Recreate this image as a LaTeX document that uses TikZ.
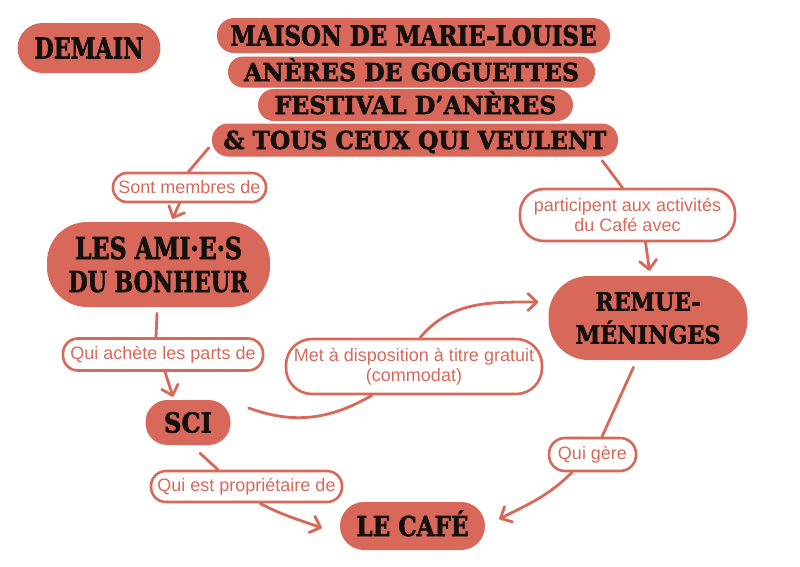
\documentclass[tikz,border=0pt]{standalone}
\usepackage{fontspec}
\usepackage{graphicx}
\usetikzlibrary{arrows.meta,calc}
\newfontfamily\heavyf{DejaVu Serif}[BoldFeatures={FakeBold=2.2}]
\newfontfamily\labf{Liberation Sans}
\definecolor{sal}{RGB}{216,105,90}
\definecolor{ink}{RGB}{20,16,14}
\newcommand\bt[3]{\resizebox{#1pt}{#2pt}{\raisebox{0pt}[\fontcharht\font`\A][0pt]{#3}}}
\begin{document}
\begin{tikzpicture}[x=1pt,y=-1pt,
 blob/.style={fill=sal, inner sep=0pt, text=ink, font=\heavyf\bfseries\fontsize{27}{33}\selectfont, align=center},
 lab/.style={draw=sal, line width=2.6pt, fill=white, text=sal, inner sep=0pt, font=\labf\fontsize{18}{20.5}\selectfont, align=center},
 conn/.style={draw=sal, line width=2.8pt, line cap=round},
 arr/.style={conn, -{Straight Barb[length=9pt,width=17pt,round]}}
]
\path[fill=white] (0,0) rectangle (800,566);
\useasboundingbox (0,0) rectangle (800,566);

\node[blob, minimum width=143pt, minimum height=50pt, rounded corners=25pt] (demain) at (89,48) {\bt{109}{21}{DEMAIN}};
\node[blob, minimum width=393pt, minimum height=35pt, rounded corners=17pt] (maison) at (413.5,35.5) {\bt{366}{20}{MAISON DE MARIE-LOUISE}};
\node[blob, minimum width=367pt, minimum height=31pt, rounded corners=15pt] (aneres) at (411.5,72) {\bt{335}{18}{ANÈRES DE GOGUETTES}};
\node[blob, minimum width=315pt, minimum height=32pt, rounded corners=16pt] (festival) at (415.5,105) {\bt{282}{18}{FESTIVAL D’ANÈRES}};
\node[blob, minimum width=406pt, minimum height=33pt, rounded corners=16pt] (tous) at (415,140) {\bt{383}{18}{\& TOUS CEUX QUI VEULENT}};

\node[blob, minimum width=223pt, minimum height=85pt, rounded corners=40pt] (amis) at (158.5,264.5) {\bt{167}{22}{LES AMI·E·S}\\\bt{180}{21}{DU BONHEUR}};
\node[blob, minimum width=85pt, minimum height=45pt, rounded corners=22pt] (sci) at (188,422.5) {\bt{48}{20}{SCI}};
\node[blob, minimum width=145pt, minimum height=48pt, rounded corners=24pt] (cafe) at (412.5,526) {\bt{112}{20}{LE CAFÉ}};
\node[blob, minimum width=199pt, minimum height=84pt, rounded corners=40pt] (remue) at (648,318) {\bt{105}{18}{REMUE-}\\\bt{145}{18}{MÉNINGES}};

\node[lab, minimum width=153pt, minimum height=29pt, rounded corners=14pt] (sont) at (189.5,187.5) {Sont membres de};
\node[lab, minimum width=215pt, minimum height=52pt, rounded corners=24pt] (part) at (627.5,215) {participent aux activités\\du Café avec};
\node[lab, minimum width=200pt, minimum height=32pt, rounded corners=15pt] (achete) at (163,354.5) {Qui achète les parts de};
\node[lab, minimum width=256pt, minimum height=55pt, rounded corners=26pt] (met) at (414,366.5) {Met à disposition à titre gratuit\\(commodat)};
\node[lab, minimum width=87pt, minimum height=33pt, rounded corners=16pt] (gere) at (592.5,454.5) {Qui gère};
\node[lab, minimum width=191pt, minimum height=31pt, rounded corners=15pt] (prop) at (246.5,486.5) {Qui est propriétaire de};

\draw[conn] ($(tous.south west)+(-3,-9)$) -- ($(sont.north)+(-1,0)$);
\draw[arr] ($(sont.south)+(-10,0)$) -- ($(amis.north)+(14,-3)$);
\draw[conn] ($(tous.south east)+(-16,4)$) -- ($(part.north)+(-5,0)$);
\draw[arr] ($(part.south)+(18,0)$) -- ($(remue.north)+(1.5,-5)$);
\draw[conn] ($(amis.south)+(-1.5,6)$) -- ($(achete.north)+(-7,0)$);
\draw[arr] ($(achete.south)+(2,0)$) -- ($(sci.north)+(-15,-3)$);
\draw[conn] ($(sci.east)+(18,-14.5)$) to[out=-20,in=210] ($(met.south)+(-42,0)$);
\draw[arr] ($(met.north)+(6,0)$) to[out=50,in=180] ($(remue.west)+(-10,-16)$);
\draw[conn] ($(remue.south)+(-14.5,7)$) -- ($(gere.north)+(9.5,0)$);
\draw[arr] ($(gere.south)+(-20.5,0)$) to[out=225,in=27] ($(cafe.east)+(14,-7)$);
\draw[conn] ($(sci.south)+(12,8)$) -- ($(prop.north)+(-28.5,0)$);
\draw[arr] ($(prop.south)+(13.5,0)$) to[out=-28,in=160] ($(cafe.west)+(-18,2)$);
\end{tikzpicture}
\end{document}
